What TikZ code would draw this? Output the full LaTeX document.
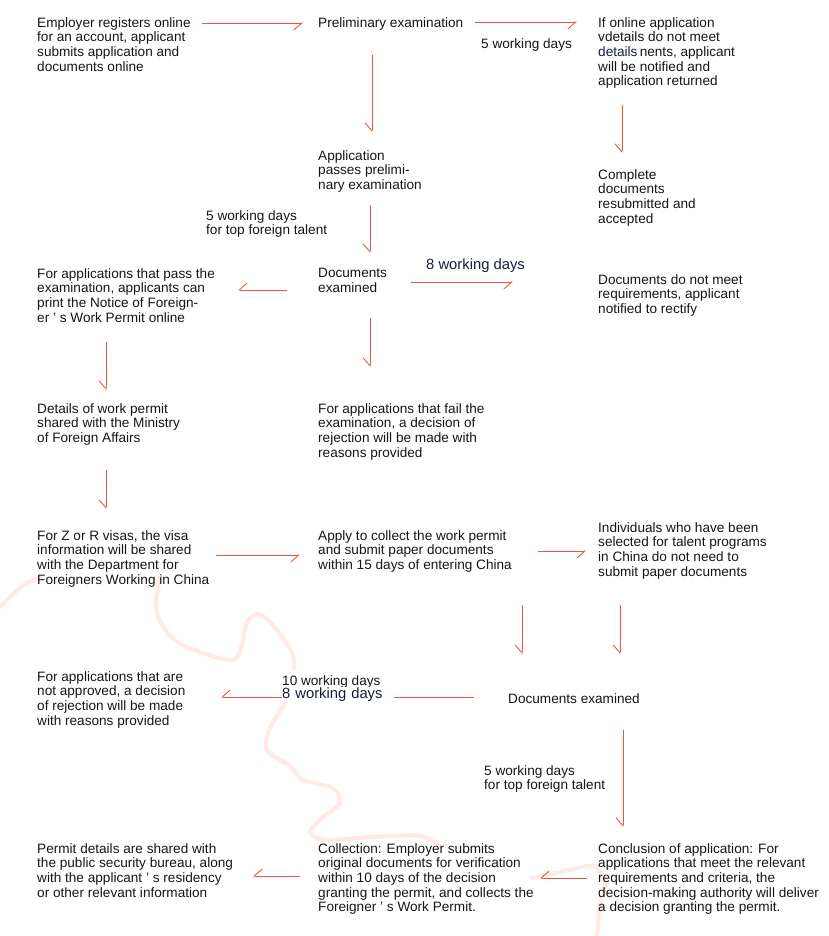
\documentclass[tikz,border=0pt]{standalone}
\usepackage{fontspec}
\setmainfont{Liberation Sans}
\usetikzlibrary{arrows.meta}
\definecolor{flowred}{RGB}{236,85,64}
\definecolor{mappink}{RGB}{254,234,231}
\definecolor{daysblue}{RGB}{22,30,62}
\definecolor{txtgray}{RGB}{22,22,22}

\begin{document}
\begin{tikzpicture}[x=1pt,y=-1pt,
  font=\fontsize{13.6}{14.7}\selectfont,
  txt/.style={anchor=north west,align=left,inner sep=0pt,text=txtgray},
  days/.style={txt,font=\fontsize{14.8}{16}\selectfont,text=daysblue},
  flow/.style={draw=flowred,line width=0.9pt,-{Straight Barb[right,length=8pt,width=14pt]}},
  map/.style={draw=mappink,line width=4.2pt,line cap=round,line join=round}]
  \useasboundingbox (0,0) rectangle (829,936);
  % faint outline behind the steps
  \draw[map] plot[smooth] coordinates {(0,607) (12,595) (25,584) (40,578)};
  \draw[map] plot[smooth] coordinates {(160,578) (156,610) (172,638) (200,652) (232,660) (241,648)
    (247,622) (258,614) (272,624) (292,652) (294,668)};
  \draw[map] plot[smooth] coordinates {(285,704) (270,728) (267,750) (290,766) (303,780) (333,788)
    (340,803) (322,818) (310,832) (325,840) (370,837) (420,836) (440,846)};
  \draw[map] plot[smooth] coordinates {(532,878) (565,871) (593,866) (605,882) (600,905) (597,936)};

  % first row
  \node[txt] (emp) at (37,17) {Employer registers online\\for an account, applicant\\submits application and\\documents online};
  \node[txt] (prelim) at (318,17) {Preliminary examination};
  \node[txt] (returned) at (598,17) {If online application\\vdetails do not meet\\{\color{daysblue}details}\,nents, applicant\\will be notified and\\application returned};
  \node[txt] (d5a) at (481,38) {5 working days};
  \node[txt] (passes) at (318,150) {Application\\passes prelimi-\\nary examination};
  \node[txt] (resub) at (598,169) {Complete\\documents\\resubmitted and\\accepted};
  % first examination
  \node[txt] (d5b) at (206,210) {5 working days\\for top foreign talent};
  \node[txt] (docsa) at (318,268) {Documents\\examined};
  \node[days] (d8a) at (426,259) {8 working days};
  \node[txt] (notice) at (37,268) {For applications that pass the\\examination, applicants can\\print the Notice of Foreign-\\er ’ s Work Permit online};
  \node[txt] (rectify) at (598,274) {Documents do not meet\\requirements, applicant\\notified to rectify};
  \node[txt] (mofa) at (37,403) {Details of work permit\\shared with the Ministry\\of Foreign Affairs};
  \node[txt] (faila) at (318,403) {For applications that fail the\\examination, a decision of\\rejection will be made with\\reasons provided};
  % entering China
  \node[txt] (zr) at (37,530) {For Z or R visas, the visa\\information will be shared\\with the Department for\\Foreigners Working in China};
  \node[txt] (collect) at (318,530) {Apply to collect the work permit\\and submit paper documents\\within 15 days of entering China};
  \node[txt] (talent) at (598,522) {Individuals who have been\\selected for talent programs\\in China do not need to\\submit paper documents};
  \node[txt] (notappr) at (37,671) {For applications that are\\not approved, a decision\\of rejection will be made\\with reasons provided};
  \node[txt] (docsb) at (508,693) {Documents examined};
  \node[txt] (d5c) at (484,765) {5 working days\\for top foreign talent};
  % last row
  \node[txt] (psb) at (37,843) {Permit details are shared with\\the public security bureau, along\\with the applicant ’ s residency\\or other relevant information};
  \node[txt] (collection) at (318,843) {Collection: Employer submits\\original documents for verification\\within 10 days of the decision\\granting the permit, and collects the\\Foreigner ’ s Work Permit.};
  \node[txt] (conclusion) at (598,843) {Conclusion of application: For\\applications that meet the relevant\\requirements and criteria, the\\decision-making authority will deliver\\a decision granting the permit.};

  % arrows
  \draw[flow] ([shift={(165,6)}]emp.north west) -- ([shift={(-15,6)}]prelim.north west);
  \draw[flow] ([shift={(157,5)}]prelim.north west) -- ([shift={(-21,5)}]returned.north west);
  \draw[flow] ([shift={(54,38)}]prelim.north west) -- ([shift={(54,-18)}]passes.north west);
  \draw[flow] ([shift={(24,88)}]returned.north west) -- ([shift={(24,-16)}]resub.north west);
  \draw[flow] ([shift={(52,55)}]passes.north west) -- ([shift={(52,-15)}]docsa.north west);
  \draw[flow] ([shift={(-31,22)}]docsa.north west) -- ([shift={(201,22)}]notice.north west);
  \draw[flow] ([shift={(93,14)}]docsa.north west) -- ([shift={(-85,8)}]rectify.north west);
  \draw[flow] ([shift={(52,50)}]docsa.north west) -- ([shift={(52,-36)}]faila.north west);
  \draw[flow] ([shift={(69,74)}]notice.north west) -- ([shift={(69,-13)}]mofa.north west);
  \draw[flow] ([shift={(69,67)}]mofa.north west) -- ([shift={(69,-21)}]zr.north west);
  \draw[flow] ([shift={(179,25)}]zr.north west) -- ([shift={(-18,25)}]collect.north west);
  \draw[flow] ([shift={(220,21)}]collect.north west) -- ([shift={(-12,29)}]talent.north west);
  \draw[flow] ([shift={(204,75)}]collect.north west) -- ([shift={(14,-39)}]docsb.north west);
  \draw[flow] ([shift={(22,83)}]talent.north west) -- ([shift={(112,-39)}]docsb.north west);
  \draw[flow] ([shift={(-34,4)}]docsb.north west) -- ([shift={(184,26)}]notappr.north west);
  \draw[flow] ([shift={(115,37)}]docsb.north west) -- ([shift={(25,-16)}]conclusion.north west);
  \draw[flow] ([shift={(-11,35)}]conclusion.north west) -- ([shift={(222,35)}]collection.north west);
  \draw[flow] ([shift={(-18,33)}]collection.north west) -- ([shift={(216,33)}]psb.north west);

  % labels over the long arrow
  \node[txt] (d10) at (282,675) {10 working days};
  \node[days,anchor=base west,fill=white,text width=112pt,text depth=1pt] (d8b) at (282,698) {8 working days};
\end{tikzpicture}
\end{document}
